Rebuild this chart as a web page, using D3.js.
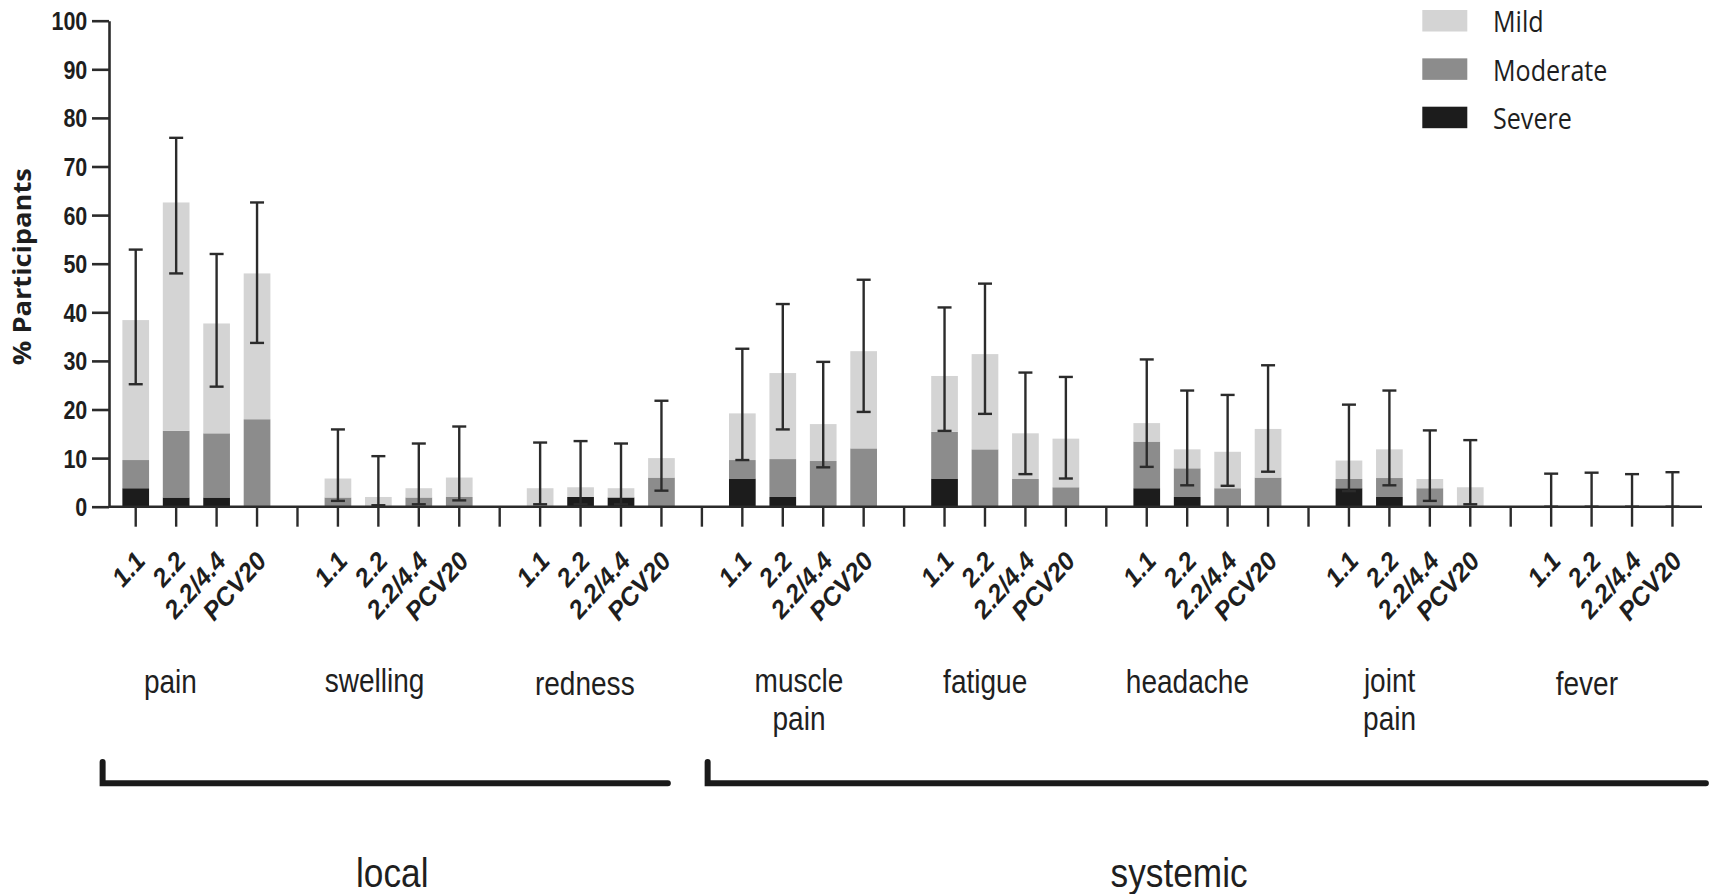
<!DOCTYPE html>
<html><head><meta charset="utf-8">
<script src="https://cdn.jsdelivr.net/npm/d3@7"></script>
<style>html,body{margin:0;padding:0;background:#fff;} svg{display:block;}</style>
</head><body><svg id="chart" width="1709" height="894"></svg>
<script>
// ---------------- data ----------------
const categories = ["pain","swelling","redness","muscle pain","fatigue","headache","joint pain","fever"];
const doses = ["1.1","2.2","2.2/4.4","PCV20"];
const severeVals   = [3.8,1.9,1.9,0,   0,0,0,0,         0,2.0,1.9,0,   5.8,2.0,0,0,    5.8,0,0,0,       3.8,2.0,0,0,   3.8,2.0,0,0,   0,0,0,0];
const moderateVals = [5.8,13.7,13.2,18.0, 1.9,0,1.9,2.0, 0,0,0,6.0,     3.8,7.8,9.4,12.0, 9.6,11.8,5.7,4.0, 9.6,5.9,3.8,6.0, 1.9,3.9,3.8,0, 0,0,0,0];
const mildVals     = [28.8,47.0,22.6,30.0, 3.9,2.0,1.9,4.0, 3.8,2.0,1.9,4.0, 9.6,17.7,7.6,20.0, 11.5,19.6,9.4,10.0, 3.8,3.9,7.5,10.0, 3.8,5.9,1.9,4.0, 0,0,0,0];
const ciLow  = [25.2,48.0,24.7,33.7, 1.2,0.3,0.5,1.3, 0.5,0.5,0.5,3.3, 9.6,15.9,8.1,19.5, 15.6,19.1,6.7,5.8, 8.2,4.4,4.3,7.2, 3.2,4.4,1.2,0.5, 0,0,0,0];
const ciHigh = [52.9,75.9,52.0,62.6, 15.9,10.4,13.0,16.5, 13.2,13.5,13.0,21.8, 32.5,41.7,29.8,46.7, 41.0,45.9,27.6,26.7, 30.3,23.9,23.0,29.1, 21.0,23.9,15.7,13.7, 6.8,7.0,6.7,7.1];
const yTicks = [0,10,20,30,40,50,60,70,80,90,100];
const levels = ["severe","moderate","mild"];
const legendLabels = ["Mild","Moderate","Severe"];
const groupNames = ["local","systemic"];
const groupMembers = [[0,2],[3,7]];

// ---------------- layout / style ----------------
const svg = d3.select("#chart");
const COL = {mild:"#d4d4d4", moderate:"#8c8c8c", severe:"#1c1c1c"};
const INK = "#2b2b2b";
const SX = 0.86;

const slots = [];
categories.forEach((c,gi)=>{ doses.forEach(d=>slots.push(c+"|"+d)); if(gi<categories.length-1) slots.push(c+"|gap"); });
const x = d3.scaleBand().domain(slots).range([115.5,1692.7]).padding(0);
const y = d3.scaleLinear().domain([0,100]).range([506.7,20.7]);
const barW = x.bandwidth()*0.66;
const cx = k => x(k)+x.bandwidth()/2;

const rows = [];
categories.forEach((c,gi)=>doses.forEach((d,di)=>{
  const i = gi*4+di;
  rows.push({key:c+"|"+d, cat:c, dose:d, severe:severeVals[i], moderate:moderateVals[i], mild:mildVals[i], lo:ciLow[i], hi:ciHigh[i]});
}));
const series = d3.stack().keys(levels)(rows);

// bars
svg.append("g").selectAll("g").data(series).join("g")
  .attr("fill", s=>COL[s.key])
  .selectAll("rect").data(s=>s.filter(d=>d[1]>d[0])).join("rect")
  .attr("x", d=>cx(d.data.key)-barW/2)
  .attr("width", barW)
  .attr("y", d=>y(d[1]))
  .attr("height", d=>y(d[0])-y(d[1]));

// error bars
const capW = 14;
const eb = svg.append("g").attr("stroke", INK).attr("stroke-width", 2.4).attr("fill","none");
rows.forEach(r=>{
  const c = cx(r.key);
  eb.append("line").attr("x1",c).attr("x2",c).attr("y1",y(r.lo)).attr("y2",y(r.hi));
  eb.append("line").attr("x1",c-capW/2).attr("x2",c+capW/2).attr("y1",y(r.hi)).attr("y2",y(r.hi));
  eb.append("line").attr("x1",c-capW/2).attr("x2",c+capW/2).attr("y1",y(r.lo)).attr("y2",y(r.lo));
});

// y axis
const yAx = svg.append("g").attr("transform","translate(109,0)")
  .call(d3.axisLeft(y).tickValues(yTicks).tickSize(17).tickSizeOuter(0));
yAx.select(".domain").attr("stroke",INK).attr("stroke-width",2.6);
yAx.selectAll(".tick line").attr("stroke",INK).attr("stroke-width",2.6);
yAx.selectAll(".tick text").attr("x",0).attr("dy","0.36em")
  .attr("transform","translate(-21.7,0) scale("+SX+",1)")
  .attr("fill","#1e1e1e").style("font","bold 25px 'Liberation Sans', Arial, sans-serif");

// x axis
const xAx = svg.append("g").attr("transform","translate(0,"+y(0)+")")
  .call(d3.axisBottom(x).tickSize(20).tickSizeOuter(0).tickFormat(""));
xAx.select(".domain").remove();
xAx.selectAll(".tick line").attr("stroke",INK).attr("stroke-width",2.4);
svg.append("line").attr("x1",109).attr("x2",1702).attr("y1",y(0)).attr("y2",y(0))
  .attr("stroke",INK).attr("stroke-width",2.6);

// dose tick labels
svg.append("g").selectAll("text").data(rows).join("text")
  .attr("transform", d=>"translate("+(cx(d.key)+11)+",562) rotate(-48)")
  .attr("text-anchor","end")
  .attr("fill","#1e1e1e")
  .style("font","italic bold 25.5px 'Liberation Sans', Arial, sans-serif")
  .text(d=>d.dose);

// y axis title
svg.append("text")
  .attr("transform","translate(31,266.7) rotate(-90)")
  .attr("text-anchor","middle")
  .attr("textLength",197).attr("lengthAdjust","spacingAndGlyphs")
  .attr("fill","#1e1e1e")
  .style("font","bold 25.6px 'Open Sans', 'Liberation Sans', sans-serif")
  .text("% Participants");

// symptom labels (one text per line)
const labelPos = [[-26,693],[-24,692],[-16,695],[-4,692],[-20,693],[-20,693],[-20,692],[-25,695]];
const lineGap = 37.5;
categories.forEach((c,gi)=>{
  const gx = (cx(c+"|"+doses[0]) + cx(c+"|"+doses[3]))/2 + labelPos[gi][0];
  c.split(" ").forEach((w,wi)=>{
    svg.append("text")
      .attr("transform","translate("+gx+","+(labelPos[gi][1]+wi*lineGap)+") scale(0.85,1)")
      .attr("text-anchor","middle").attr("fill","#1f1f1f")
      .style("font","33px 'Liberation Sans', Arial, sans-serif")
      .text(w);
  });
});

// group brackets
const brOff = [[-33.1,6.4],[-34.7,33.4]];
const labOff = [7,-27.7];
groupNames.forEach((g,i)=>{
  const a = categories[groupMembers[i][0]], b = categories[groupMembers[i][1]];
  const x0 = cx(a+"|"+doses[0]) + brOff[i][0];
  const x1 = cx(b+"|"+doses[3]) + brOff[i][1];
  svg.append("path").attr("d","M"+x0+",762V783.3H"+x1)
    .attr("fill","none").attr("stroke","#1a1a1a").attr("stroke-width",6)
    .attr("stroke-linecap","round").attr("stroke-linejoin","miter");
  svg.append("text")
    .attr("transform","translate("+((x0+x1)/2+labOff[i])+",886.7) scale("+SX+",1)")
    .attr("text-anchor","middle").attr("fill","#1f1f1f")
    .style("font","41px 'Liberation Sans', Arial, sans-serif")
    .text(g);
});

// legend
const legendKeys = ["mild","moderate","severe"];
const lg = svg.append("g");
legendKeys.forEach((k,i)=>{
  const yy = 10 + i*48.35;
  lg.append("rect").attr("x",1422.3).attr("y",yy).attr("width",45).attr("height",21.5).attr("fill",COL[k]);
  lg.append("text").attr("transform","translate(1493,"+(yy+22.3)+") scale(0.866,1)")
    .attr("fill","#1e1e1e")
    .style("font","29px 'Open Sans', 'Liberation Sans', sans-serif")
    .text(legendLabels[i]);
});
</script></body></html>
